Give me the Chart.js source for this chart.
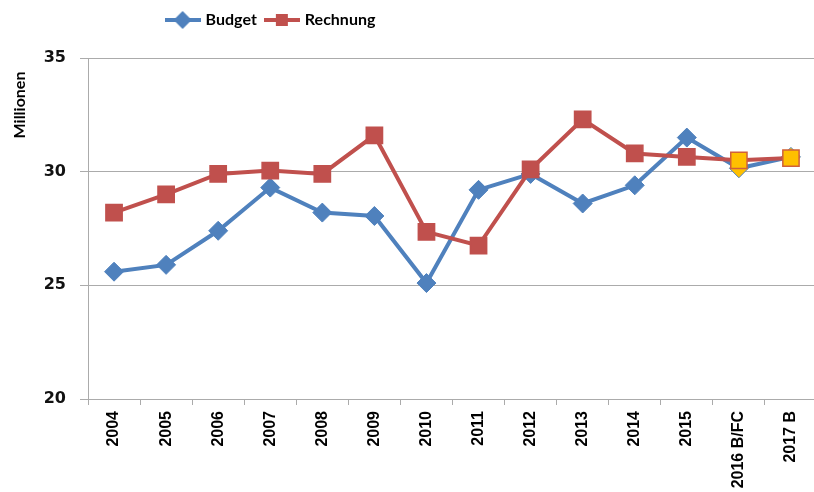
<!DOCTYPE html>
<html><head><meta charset="utf-8">
<script src="https://cdn.jsdelivr.net/npm/chart.js@4.4.1/dist/chart.umd.min.js"></script>
<style>html,body{margin:0;overflow:hidden;background:#fff}#wrap{width:830px;height:492px}</style>
</head><body><div id="wrap"><canvas id="c"></canvas></div>
<script>
const categories = ['2004','2005','2006','2007','2008','2009','2010','2011','2012','2013','2014','2015','2016 B/FC','2017 B'];
const budget   = [25.6, 25.9, 27.4, 29.3, 28.2, 28.05, 25.1, 29.2, 29.9, 28.6, 29.4, 31.5, 30.15, 30.65];
const rechnung = [28.2, 29.0, 29.9, 30.05, 29.9, 31.6, 27.35, 26.75, 30.1, 32.3, 30.8, 30.65, 30.5, 30.6];
const yTicks = [20, 25, 30, 35];
const forecastFrom = 12;

const BLUE = '#4F81BD', RED = '#C0504D', YELLOW = '#FFC000', GRID = '#ABABAB';

function legendIcon(color, kind){
  const c = document.createElement('canvas'); c.width = 36; c.height = 18;
  const x = c.getContext('2d');
  x.strokeStyle = color; x.lineWidth = 4;
  x.beginPath(); x.moveTo(0, 9); x.lineTo(36, 9); x.stroke();
  x.fillStyle = color;
  if (kind === 'diamond') { x.beginPath(); x.moveTo(18,0); x.lineTo(27,9); x.lineTo(18,18); x.lineTo(9,9); x.closePath(); x.fill(); }
  else x.fillRect(12, 3, 12, 12);
  return c;
}
const icons = [legendIcon(BLUE, 'diamond'), legendIcon(RED, 'rect')];

const pick = (a, b) => categories.map((_, i) => i >= forecastFrom ? b : a);

const patchLegend = {
  id: 'patchLegend',
  beforeUpdate(chart){
    const L = chart.legend;
    if (L && !L._patched) { const f = L.fit; L.fit = function(){ f.call(this); this.height = 58; }; L._patched = true; }
  },
  afterLayout(chart){ const L = chart.legend; L.left = 0; L.right = 543; L.top = 2; }
};
const axisTitle = {
  id: 'axisTitle',
  afterDraw(chart){
    const ctx = chart.ctx; ctx.save();
    ctx.translate(20, chart.chartArea.top + 47); ctx.rotate(-Math.PI / 2);
    ctx.font = 'bold 16px Lato'; ctx.textAlign = 'center'; ctx.textBaseline = 'middle'; ctx.fillStyle = '#000';
    ctx.fillText('Millionen', 0, 0); ctx.restore();
  }
};

new Chart(document.getElementById('c'), {
  type: 'line',
  data: { labels: categories, datasets: [
    { label: 'Budget', data: budget, borderColor: BLUE, borderWidth: 4, tension: 0, order: 2,
      pointStyle: 'rectRot', pointRadius: 9.5, pointHoverRadius: 9.5, pointBorderWidth: 1,
      pointBackgroundColor: pick(BLUE, YELLOW), pointBorderColor: BLUE },
    { label: 'Rechnung', data: rechnung, borderColor: RED, borderWidth: 4, tension: 0, order: 1,
      pointStyle: 'rect', pointRadius: 11.5, pointHoverRadius: 11.5, pointBorderWidth: 1.5,
      pointBackgroundColor: pick(RED, YELLOW), pointBorderColor: pick(RED, '#D0603A') }
  ]},
  options: {
    animation: false, responsive: true, maintainAspectRatio: false,
    layout: { padding: { left: 0, right: 10, top: 0, bottom: 0 } },
    scales: {
      x: { offset: true,
        grid: { offset: true, drawOnChartArea: false, tickLength: 6, color: GRID },
        border: { color: GRID },
        ticks: { minRotation: 90, maxRotation: 90, autoSkip: false, padding: 6, color: '#000', font: { family: 'Liberation Sans', weight: 'bold', size: 16 } },
        afterFit(s){ s.height = 93; } },
      y: { min: 20, max: 35,
        afterBuildTicks(s){ s.ticks = yTicks.map(v => ({ value: v })); },
        grid: { color: GRID, tickLength: 8 }, border: { color: GRID },
        ticks: { padding: 14, color: '#111', font: { family: 'DejaVu Sans', weight: 'bold', size: 16 } },
        afterFit(s){ s.width = 88; } }
    },
    plugins: {
      tooltip: { enabled: false },
      legend: { position: 'top', align: 'center',
        labels: { usePointStyle: true, pointStyleWidth: 30, padding: 10, color: '#000',
          font: { family: 'Lato', weight: 'bold', size: 16 },
          sort: (a, b) => a.datasetIndex - b.datasetIndex,
          generateLabels(chart){
            const items = Chart.defaults.plugins.legend.labels.generateLabels(chart);
            items.forEach(it => { it.pointStyle = icons[it.datasetIndex]; });
            return items;
          } } }
    }
  },
  plugins: [patchLegend, axisTitle]
});
</script></body></html>
